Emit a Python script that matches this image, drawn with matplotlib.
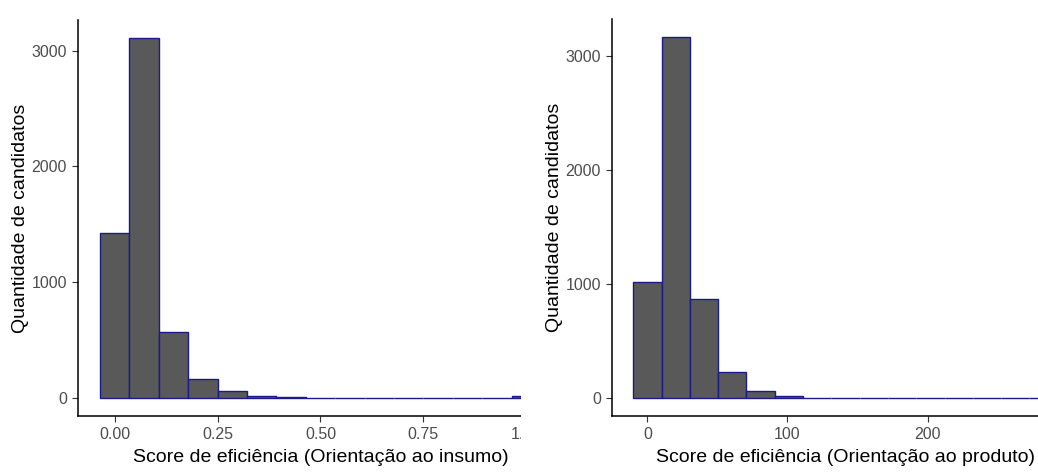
import matplotlib
matplotlib.use("Agg")
import matplotlib.pyplot as plt
from matplotlib.patches import Rectangle
import numpy as np

plt.rcParams['font.family'] = ['Liberation Sans', 'DejaVu Sans']

# Left histogram: input orientation (bins=15, width=1/14)
input_centers = [0.0, 1/14, 2/14, 3/14, 4/14, 5/14, 6/14, 7/14, 8/14, 9/14,
                 10/14, 11/14, 12/14, 13/14, 1.0]
input_counts = [1425, 3109, 570, 168, 58, 15, 12, 0, 0, 0, 0, 0, 0, 0, 15]
input_width = 1/14

# Right histogram: output orientation
output_centers = [0.0, 20.2, 40.4, 60.6, 80.8, 101.0, 121.2, 141.4, 161.6,
                  181.8, 202.0, 222.2, 242.4, 262.6, 282.8]
output_counts = [1021, 3169, 871, 229, 59, 15, 0, 0, 0, 0, 0, 0, 0, 0, 0]
output_width = 20.2

x_ticks_left = [0.0, 0.25, 0.5, 0.75, 1.0]
x_ticklabels_left = ["0.00", "0.25", "0.50", "0.75", "1.00"]
x_ticks_right = [0, 100, 200]
y_ticks = [0, 1000, 2000, 3000]

xlabel_left = "Score de eficiência (Orientação ao insumo)"
xlabel_right = "Score de eficiência (Orientação ao produto)"
ylabel = "Quantidade de candidatos"

FILL = "#595959"
EDGE = "#1a1a8a"

fig = plt.figure(figsize=(10.38, 4.73), dpi=100)
W, H = 1038, 473

def style(ax):
    for s in ["top", "right"]:
        ax.spines[s].set_visible(False)
    for s in ["left", "bottom"]:
        ax.spines[s].set_linewidth(1.1)
        ax.spines[s].set_color("black")
    ax.tick_params(axis="both", colors="#333333", labelcolor="#4d4d4d",
                   labelsize=11.5, length=4, width=0.8, pad=4)

ax1 = fig.add_axes([78/W, 1-416/H, (563-78)/W, (416-20)/H])
ax1.set_zorder(0)
ax1.bar(input_centers, input_counts, width=input_width, color=FILL,
        edgecolor=EDGE, linewidth=1.0)
lo = input_centers[0]-input_width/2; hi = input_centers[-1]+input_width/2
ax1.set_xlim(lo-0.05*(hi-lo), hi+0.05*(hi-lo))
ym = max(input_counts)
ax1.set_ylim(-0.05*ym, 1.05*ym)
ax1.set_xticks(x_ticks_left)
ax1.set_xticklabels(x_ticklabels_left)
ax1.set_yticks(y_ticks)
ax1.set_xlabel(xlabel_left, fontsize=14, labelpad=5)
ax1.set_ylabel(ylabel, fontsize=14, labelpad=2)
style(ax1)

ax2 = fig.add_axes([612/W, 1-416/H, (1079-612)/W, (416-19)/H])
ax2.set_zorder(2)
ax2.bar(output_centers, output_counts, width=output_width, color=FILL,
        edgecolor=EDGE, linewidth=1.0)
lo = output_centers[0]-output_width/2; hi = output_centers[-1]+output_width/2
ax2.set_xlim(lo-0.05*(hi-lo), hi+0.05*(hi-lo))
ym = max(output_counts)
ax2.set_ylim(-0.05*ym, 1.05*ym)
ax2.set_xticks(x_ticks_right)
ax2.set_yticks(y_ticks)
ax2.set_xlabel(xlabel_right, fontsize=14, labelpad=5)
ax2.set_ylabel(ylabel, fontsize=14, labelpad=2)
style(ax2)

# crop the left panel at the panel gap like the reference image
rect = Rectangle((521/W, 0), (612-521)/W, 1, transform=fig.transFigure,
                 facecolor="white", edgecolor="none", zorder=1)
fig.patches.append(rect)

fig.savefig("out.png", dpi=100, facecolor="white")
